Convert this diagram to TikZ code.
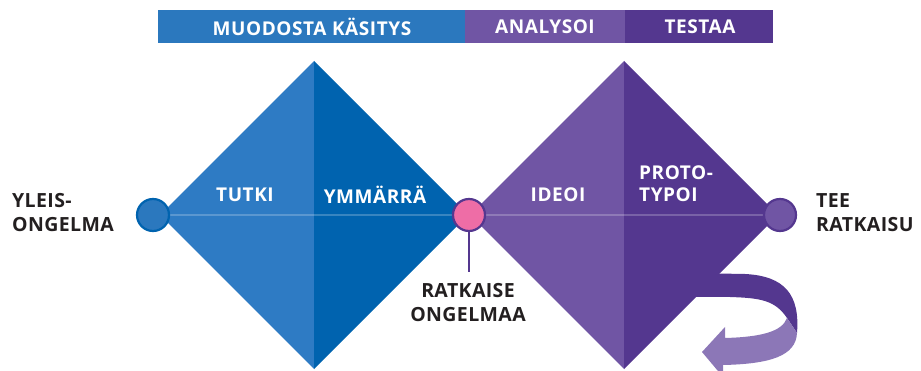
\documentclass[tikz,border=0pt]{standalone}
\usepackage{fontspec}
\setmainfont{Open Sans}
\newfontfamily\labfont[LetterSpace=3]{Open Sans}
\newfontfamily\blkfont[LetterSpace=2]{Open Sans}
\definecolor{barblue}{HTML}{2B78BE}
\definecolor{lblue}{HTML}{2E7BC4}
\definecolor{dblue}{HTML}{0063AF}
\definecolor{lpurple}{HTML}{7055A4}
\definecolor{dpurple}{HTML}{54378F}
\definecolor{apurple}{HTML}{8C77B7}
\definecolor{pinkc}{HTML}{EE6DA6}
\definecolor{txt}{HTML}{231F20}
\tikzset{
  wlabel/.style={text=white,font=\labfont\bfseries\fontsize{19}{22}\selectfont,inner sep=0pt},
  blabel/.style={text=txt,font=\blkfont\bfseries\fontsize{19.5}{24}\selectfont,inner sep=0pt,align=left},
  barlabel/.style={text=white,font=\labfont\bfseries\fontsize{19}{22}\selectfont,inner sep=0pt},
  dot/.style={circle,minimum size=32pt,inner sep=0pt,line width=2.2pt}
}
\begin{document}
\begin{tikzpicture}[x=1pt,y=-1pt]
\useasboundingbox (0,0) rectangle (921,371);
% top bar
\fill[barblue] (158,10) rectangle (465,43);
\fill[lpurple] (465,10) rectangle (625,43);
\fill[dpurple] (625,10) rectangle (773,43);
\node[barlabel] (b1) at (312,27) {MUODOSTA KÄSITYS};
\node[barlabel] (b2) at (545,27) {ANALYSOI};
\node[barlabel] (b3) at (700,27) {TESTAA};
% curved arrow
\fill[dpurple] (690,273) -- (745,274) .. controls (785,276) and (800,295) .. (797,333)
  -- (787,318) .. controls (775,300) and (760,298) .. (730,297) -- (690,297) -- cycle;
\fill[apurple] (797,333) .. controls (796,356) and (770,364) .. (723,365)
  -- (723,377) -- (702,352) -- (725,327) -- (725,338)
  .. controls (760,337) and (782,332) .. (787,318) -- cycle;
% left diamond
\fill[lblue] (160,215) -- (314,61) -- (314,369) -- cycle;
\fill[dblue] (314,61) -- (468,215) -- (314,369) -- cycle;
% right diamond
\fill[lpurple] (470,215) -- (624,61) -- (624,369) -- cycle;
\fill[dpurple] (624,61) -- (778,215) -- (624,369) -- cycle;
% axis line
\draw[white,opacity=0.22,line width=1.5pt] (160,215) -- (778,215);
% circles
\node[dot,draw=dblue,fill=barblue] (c1) at (153,215) {};
\node[dot,draw=dpurple,fill=pinkc] (c2) at (469,215) {};
\node[dot,draw=dpurple,fill=lpurple] (c3) at (780,215) {};
\coordinate (stem) at (469,272);
\draw[dpurple,line width=2.5pt] (c2.south) -- (stem);
% diamond labels
\node[wlabel] (t1) at (245,195) {TUTKI};
\node[wlabel] (t2) at (375,195) {YMMÄRRÄ};
\node[wlabel] (t3) at (558,195) {IDEOI};
\node[wlabel,anchor=west,align=left] (t4) at (639,184) {PROTO-\\TYPOI};
% outside labels
\node[blabel,anchor=west] (l1) at (12,213) {YLEIS-\\ONGELMA};
\node[blabel,anchor=west] (l2) at (816,213) {TEE\\RATKAISU};
\node[blabel,align=center] (l3) at (468,303) {RATKAISE\\ONGELMAA};
\end{tikzpicture}
\end{document}
